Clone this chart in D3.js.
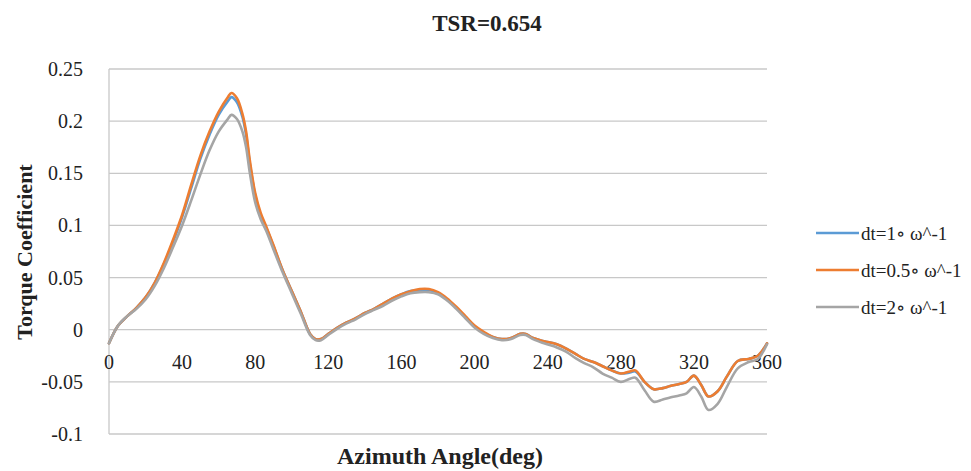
<!DOCTYPE html>
<html><head><meta charset="utf-8">
<script src="https://cdn.jsdelivr.net/npm/d3@7/dist/d3.min.js"></script>
<style>body{margin:0;background:#fff;}svg{display:block;} text{font-family:"Liberation Serif","DejaVu Serif",serif;}</style>
</head><body>
<script>
const angles =      [0, 5, 10, 15, 20, 25, 30, 35, 40, 45, 50, 55, 60, 65, 67, 70, 73, 75, 77, 80, 83, 86, 90, 95, 100, 105, 110, 113, 116, 120, 125, 130, 135, 140, 145, 150, 155, 160, 165, 170, 175, 180, 185, 190, 195, 200, 205, 210, 215, 220, 225, 228, 232, 238, 245, 250, 255, 260, 265, 270, 275, 280, 285, 288, 293, 298, 303, 307, 312, 316, 320, 324, 328, 333, 338, 344, 350, 355, 360];
const dt1 =         [-0.013, 0.004, 0.013, 0.021, 0.031, 0.045, 0.063, 0.084, 0.108, 0.136, 0.164, 0.187, 0.206, 0.219, 0.223, 0.218, 0.204, 0.187, 0.160, 0.129, 0.110, 0.098, 0.080, 0.057, 0.037, 0.017, -0.004, -0.009, -0.009, -0.004, 0.002, 0.007, 0.011, 0.016, 0.020, 0.025, 0.030, 0.034, 0.037, 0.038, 0.038, 0.035, 0.029, 0.021, 0.012, 0.003, -0.003, -0.007, -0.009, -0.008, -0.004, -0.004, -0.008, -0.011, -0.014, -0.018, -0.023, -0.028, -0.031, -0.035, -0.039, -0.042, -0.041, -0.040, -0.050, -0.057, -0.056, -0.054, -0.052, -0.050, -0.044, -0.053, -0.064, -0.059, -0.045, -0.030, -0.028, -0.025, -0.013];
const dt05 =        [-0.013, 0.004, 0.013, 0.021, 0.031, 0.045, 0.064, 0.086, 0.110, 0.139, 0.167, 0.190, 0.209, 0.223, 0.227, 0.222, 0.207, 0.190, 0.163, 0.131, 0.112, 0.099, 0.081, 0.057, 0.037, 0.017, -0.004, -0.009, -0.009, -0.004, 0.002, 0.007, 0.011, 0.016, 0.020, 0.025, 0.030, 0.034, 0.037, 0.039, 0.039, 0.036, 0.030, 0.022, 0.013, 0.004, -0.002, -0.007, -0.009, -0.008, -0.004, -0.004, -0.008, -0.011, -0.014, -0.018, -0.023, -0.028, -0.031, -0.035, -0.039, -0.042, -0.040, -0.039, -0.050, -0.057, -0.056, -0.054, -0.052, -0.050, -0.044, -0.053, -0.064, -0.059, -0.045, -0.030, -0.028, -0.025, -0.013];
const dt2 =         [-0.013, 0.004, 0.013, 0.020, 0.029, 0.042, 0.059, 0.079, 0.100, 0.124, 0.149, 0.172, 0.190, 0.202, 0.206, 0.202, 0.190, 0.175, 0.151, 0.122, 0.106, 0.095, 0.077, 0.055, 0.035, 0.015, -0.005, -0.010, -0.010, -0.005, 0.001, 0.006, 0.010, 0.015, 0.019, 0.023, 0.028, 0.032, 0.035, 0.036, 0.036, 0.034, 0.028, 0.020, 0.011, 0.002, -0.004, -0.008, -0.010, -0.009, -0.005, -0.005, -0.009, -0.013, -0.017, -0.021, -0.027, -0.032, -0.036, -0.042, -0.046, -0.050, -0.047, -0.046, -0.058, -0.069, -0.067, -0.065, -0.063, -0.061, -0.055, -0.064, -0.077, -0.071, -0.055, -0.037, -0.031, -0.028, -0.014];
const seriesNames = ["dt=1∘ ω^-1", "dt=0.5∘ ω^-1", "dt=2∘ ω^-1"];
const seriesColors = ["#5B9BD5", "#ED7D31", "#A5A5A5"];
const xTicks = [0, 40, 80, 120, 160, 200, 240, 280, 320, 360];
const yTicks = [-0.1, -0.05, 0, 0.05, 0.1, 0.15, 0.2, 0.25];
const title = "TSR=0.654";
const xTitle = "Azimuth Angle(deg)";
const yTitle = "Torque Coefficient";

const W = 971, H = 471;
const svg = d3.select("body").append("svg").attr("width", W).attr("height", H);
const x = d3.scaleLinear().domain([0, 360]).range([109, 767]);
const y = d3.scaleLinear().domain([-0.1, 0.25]).range([434, 69]);
const FONT = "'Liberation Serif','DejaVu Serif',serif";

// gridlines
svg.append("g").selectAll("line").data(yTicks).join("line")
  .attr("x1", x(0)).attr("x2", x(360))
  .attr("y1", d => y(d)).attr("y2", d => y(d))
  .attr("stroke", "#c8c8c8").attr("stroke-width", 1.3);
// left axis line
svg.append("line").attr("x1", x(0)).attr("x2", x(0)).attr("y1", y(0.25)).attr("y2", y(-0.1))
  .attr("stroke", "#c8c8c8").attr("stroke-width", 1.3);

// y tick labels
svg.append("g").selectAll("text").data(yTicks).join("text")
  .attr("x", 83).attr("y", d => y(d)).attr("dy", "0.35em")
  .attr("text-anchor", "end").attr("font-family", FONT).attr("font-size", 20).attr("fill", "#222")
  .text(d => String(+d.toFixed(2)));

// x tick labels (below the zero line)
svg.append("g").selectAll("text").data(xTicks).join("text")
  .attr("x", d => x(d)).attr("y", y(0) + 39)
  .attr("text-anchor", "middle").attr("font-family", FONT).attr("font-size", 20).attr("fill", "#222")
  .text(d => d);

// lines
const allSeries = [dt1, dt05, dt2];
const line = d3.line().x(d => x(d[0])).y(d => y(d[1])).curve(d3.curveCatmullRom.alpha(0.5));
allSeries.forEach((vals, i) => {
  svg.append("path").datum(angles.map((a, j) => [a, vals[j]]))
    .attr("d", line).attr("fill", "none")
    .attr("stroke", seriesColors[i]).attr("stroke-width", 2.6)
    .attr("stroke-linejoin", "round").attr("stroke-linecap", "round");
});

// titles
svg.append("text").attr("x", 487).attr("y", 31).attr("text-anchor", "middle").attr("font-family", FONT)
  .attr("font-size", 23).attr("font-weight", "bold").attr("fill", "#222").text(title);
svg.append("text").attr("x", 440).attr("y", 464).attr("text-anchor", "middle").attr("font-family", FONT)
  .attr("font-size", 24).attr("font-weight", "bold").attr("fill", "#222").text(xTitle);
svg.append("text").attr("transform", "translate(32,252) rotate(-90)").attr("text-anchor", "middle").attr("font-family", FONT)
  .attr("font-size", 22).attr("font-weight", "bold").attr("fill", "#222").text(yTitle);

// legend
const legY = [233, 270, 307];
const leg = svg.append("g").selectAll("g").data(seriesNames).join("g")
  .attr("transform", (d, i) => `translate(0,${legY[i]})`);
leg.append("line").attr("x1", 816).attr("x2", 859).attr("y1", 0).attr("y2", 0)
  .attr("stroke", (d, i) => seriesColors[i]).attr("stroke-width", 2.6);
leg.append("text").attr("x", 861).attr("y", 0).attr("dy", "0.35em").attr("font-family", FONT)
  .attr("font-size", 19).attr("fill", "#222").text(d => d);
</script>
</body></html>
